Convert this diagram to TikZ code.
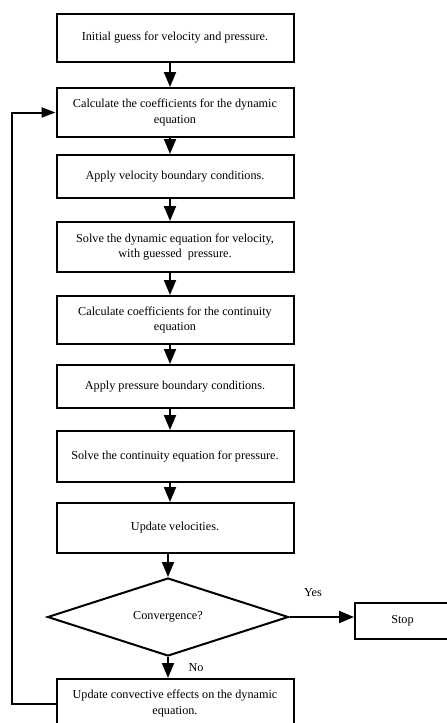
\documentclass[tikz,border=0pt]{standalone}
\usepackage{fontspec}
\setmainfont{Liberation Serif}
\usetikzlibrary{shapes.geometric,arrows.meta,calc}
\begin{document}
\begin{tikzpicture}[x=1pt,y=-1pt,
  stepbox/.style={draw,line width=2pt,minimum width=237pt,inner sep=2pt,align=center,font=\fontsize{12.2}{15.5}\selectfont},
  decide/.style={draw,diamond,line width=2pt,minimum width=241pt,minimum height=78pt,aspect=3.1,inner sep=0pt,font=\fontsize{12.2}{15.5}\selectfont},
  flow/.style={line width=2pt,-{Triangle[length=15pt,width=12pt]}},
  loop/.style={line width=2pt,-{Triangle[length=14pt,width=10pt]}},
  lbl/.style={font=\fontsize{12.2}{15.5}\selectfont,inner sep=0pt}]
\useasboundingbox (0,0) rectangle (447,723);
\clip (0,0) rectangle (447,723);
\node[stepbox,minimum height=48pt] (b1) at (175,38) {Initial guess for velocity and pressure.};
\node[stepbox,minimum height=49pt] (b2) at (175,112.5) {Calculate the coefficients for the dynamic\\equation};
\node[stepbox,minimum height=43pt] (b3) at (175,176.5) {Apply velocity boundary conditions.};
\node[stepbox,minimum height=50pt] (b4) at (175,247) {Solve the dynamic equation for velocity,\\with guessed\ \ pressure.};
\node[stepbox,minimum height=48pt] (b5) at (175,320) {Calculate coefficients for the continuity\\equation};
\node[stepbox,minimum height=43pt] (b6) at (175,386.5) {Apply pressure boundary conditions.};
\node[stepbox,minimum height=51pt] (b7) at (175,456.5) {Solve the continuity equation for pressure.};
\node[stepbox,minimum height=50pt] (b8) at (175,528) {Update velocities.};
\node[decide] (d) at (168,617) {Convergence?};
\node[stepbox,minimum width=95pt,minimum height=36pt] (stop) at (402.5,621) {Stop};
\node[stepbox,minimum height=49pt] (b9) at (175,703.5) {Update convective effects on the dynamic\\equation.};
\coordinate (lb) at (12,703.5);
\coordinate (lt) at (12,112.5);
\foreach \a/\b in {b1/b2,b2/b3,b3/b4,b4/b5,b5/b6,b6/b7,b7/b8}
  \draw[flow] ([xshift=-5pt]\a.south) -- ([xshift=-5pt]\b.north);
\draw[flow] (d.north |- b8.south) -- (d.north);
\draw[flow] (d.south) -- (d.south |- b9.north);
\draw[flow] (d.east) -- (d.east -| stop.west);
\draw[loop] (b9.west) -- (lb) -- (lt) -- (b2.west);
\node[lbl] (yes) at (313,593) {Yes};
\node[lbl] (no) at (196,668) {No};
\end{tikzpicture}
\end{document}
